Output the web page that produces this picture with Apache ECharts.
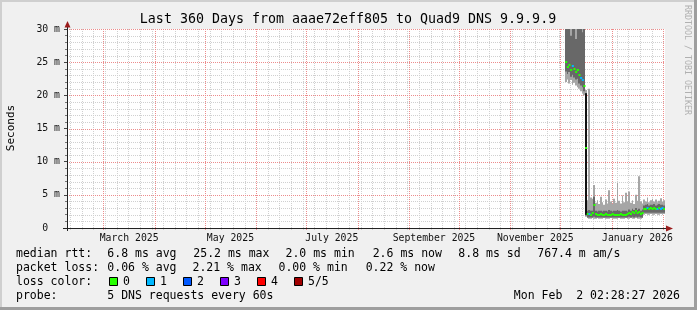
<!DOCTYPE html>
<html><head><meta charset="utf-8">
<script src="https://cdn.jsdelivr.net/npm/echarts@6/dist/echarts.min.js"></script>
<style>html,body{margin:0;padding:0;background:#f0f0f0}#c{width:697px;height:310px}</style>
</head><body><div id="c"></div>
<script>
// ---------------- data ----------------
const rangeStart = '2025-02-07T02:28:27Z';
const rangeEnd   = '2026-02-02T02:28:27Z';
const dataStart  = '2025-12-04T00:00:00Z';   // first daily bucket with data

// median RTT per day (ms)
const medianMs = [25.0,24.2,24.6,23.8,24.4,23.9,23.5,23.8,23.0,22.6,22.3,21.4,
  12.1,
  2.1,2.1,2.0,2.2,3.4,2.1,2.0,2.0,2.1,2.0,2.0,2.1,2.0,2.0,2.0,2.1,2.0,2.0,2.0,2.0,2.1,2.0,2.0,2.0,2.1,2.3,2.1,2.4,2.2,2.5,2.2,2.4,2.1,2.3,
  2.8,2.9,3.0,2.8,3.0,2.9,3.0,2.8,2.9,3.0,2.9,3.0,2.9];
// lost packets (of 5) per day
const lossCount = [0,0,0,0,1,0,0,0,0,1,1,0,
  0,
  0,1,0,0,0,0,0,0,0,0,0,0,0,0,0,0,0,0,0,0,0,0,0,0,0,0,0,0,0,0,0,0,0,0,
  0,0,1,0,0,0,0,0,1,0,1,1,0];
// outer smoke (fastest / slowest ping), ms
const smokeMinMs = [22.0,22.4,21.8,22.3,21.6,21.9,21.5,21.2,21.0,20.6,20.3,20.0,
  1.7,
  1.5,1.4,1.4,1.5,1.4,1.4,1.5,1.4,1.4,1.4,1.5,1.4,1.4,1.4,1.5,1.4,1.4,1.4,1.4,1.5,1.4,1.4,1.4,1.5,1.4,1.4,1.5,1.4,1.4,1.5,1.4,1.4,1.4,1.5,
  2.0,2.1,2.0,2.0,2.1,2.0,2.0,2.1,2.0,2.0,2.1,2.0,2.1];
const smokeMaxMs = [38,42,36,40,45,37,41,39,44,36,40,38,
  20.8,
  4.2,21.0,4.6,4.4,6.5,3.8,4.2,3.6,4.7,3.9,3.5,4.3,3.7,5.7,4.0,3.6,4.4,3.8,6.8,4.1,3.7,4.9,3.9,5.3,4.0,5.5,3.8,4.2,3.6,5.0,4.1,7.8,4.0,3.7,
  4.3,4.0,4.6,3.9,4.2,4.4,4.0,4.3,3.9,4.1,4.5,4.0,4.2];
// inner smoke (2nd / 4th ping), ms
const innerLoMs = [23.6,23.2,23.5,22.8,23.1,22.7,22.4,22.5,21.8,21.5,21.2,20.6,
  1.9,
  1.6,1.6,1.6,1.6,1.7,1.6,1.6,1.6,1.6,1.6,1.6,1.6,1.6,1.6,1.6,1.6,1.6,1.6,1.6,1.6,1.6,1.6,1.6,1.6,1.6,1.7,1.6,1.7,1.6,1.7,1.6,1.7,1.6,1.6,
  2.3,2.3,2.3,2.3,2.3,2.3,2.3,2.3,2.3,2.3,2.3,2.3,2.3];
const innerHiMs = [34,30.5,33,29,35,31,28.5,32,30.2,33,29.5,31,
  20.3,
  2.6,2.7,2.6,2.6,4.7,2.6,2.5,2.6,2.6,2.5,2.6,2.6,2.5,2.7,2.6,2.5,2.6,2.6,2.7,2.6,2.5,2.6,2.6,2.6,2.5,2.8,2.6,2.9,2.7,3.0,2.7,2.9,2.6,2.8,
  3.4,3.5,3.6,3.4,3.5,3.5,3.6,3.4,3.5,3.6,3.5,3.5,3.4];
// dense core on the transition day
const coreDayIdx = [12];
const coreLoMs = [2.0];
const coreHiMs = [20.3];

const yTicks = [0, 5, 10, 15, 20, 25, 30];
const monthStarts = ['2025-03-01','2025-04-01','2025-05-01','2025-06-01','2025-07-01','2025-08-01',
  '2025-09-01','2025-10-01','2025-11-01','2025-12-01','2026-01-01','2026-02-01'];
const firstWeekLine = '2025-02-09';
const labelMonths = ['2025-03-01','2025-05-01','2025-07-01','2025-09-01','2025-11-01','2026-01-01'];
const xTickLabels = ['March 2025','May 2025','July 2025','September 2025','November 2025','January 2026'];

const lossColors = ['#26ff00','#00b8ff','#0059ff','#7e00ff','#ff0000','#a10000'];
const lossLabels = ['0','1','2','3','4','5/5'];

// ---------------- build ----------------
const DAY = 86400000;
const tMin = Date.parse(rangeStart), tMax = Date.parse(rangeEnd);
const d0 = Date.parse(dataStart);
const dayTimes = medianMs.map((_, i) => d0 + i * DAY);
const weekTimes = [];
for (let t = Date.parse(firstWeekLine + 'T00:00:00Z'); t < tMax; t += 7 * DAY) weekTimes.push(t);
const monthTimes = monthStarts.map(s => Date.parse(s + 'T00:00:00Z'));
const labelCenters = labelMonths.map(s => {
  const a = new Date(s + 'T00:00:00Z');
  const b = Date.UTC(a.getUTCFullYear(), a.getUTCMonth() + 1, 1);
  return (a.getTime() + b) / 2;
});

const MONO = '"DejaVu Sans Mono", monospace';
const MINOR = '#d0d0d0';
const MAJOR = '#ec8c8c';

function vLines(times, color, z) {
  return {
    type: 'custom', z, silent: true, clip: false,
    data: times.map(t => [t, 0]),
    encode: { x: 0, y: 1 },
    renderItem(params, api) {
      const t = api.value(0);
      const a = api.coord([t, 30]), b = api.coord([t, 0]);
      const x = Math.round(a[0]) + 0.5;
      return { type: 'line', shape: { x1: x, y1: a[1], x2: x, y2: b[1] + 2 },
        style: { stroke: color, lineWidth: 1, lineDash: [1, 1] } };
    }
  };
}
function hLines(step, skip, color, z) {
  const vals = [];
  for (let v = yTicks[0]; v <= yTicks[yTicks.length - 1]; v += step) if (!skip || v % skip) vals.push(v);
  return {
    type: 'custom', z, silent: true, clip: false,
    data: vals.map(v => [tMin, v]),
    encode: { x: 0, y: 1 },
    renderItem(params, api) {
      const v = api.value(1);
      const a = api.coord([tMin, v]), b = api.coord([tMax, v]);
      const y = Math.round(a[1]) + 0.5;
      return { type: 'line', shape: { x1: a[0], y1: y, x2: b[0], y2: y },
        style: { stroke: color, lineWidth: 1, lineDash: [1, 1] } };
    }
  };
}

function band(lo, hi, idx, color, z) {
  return {
    type: 'custom', z, silent: true, clip: true,
    data: idx.map((d, k) => [d0 + d * DAY, lo[k], hi[k]]),
    encode: { x: 0, y: [1, 2] },
    renderItem(params, api) {
      const t = api.value(0), l = api.value(1), h = api.value(2);
      const a = api.coord([t, h]), b = api.coord([t + DAY, l]);
      const x0 = Math.round(a[0]), x1 = Math.round(b[0]);
      return { type: 'rect', shape: { x: x0, y: a[1], width: Math.max(1, x1 - x0), height: b[1] - a[1] },
        style: { fill: color } };
    }
  };
}
const allIdx = medianMs.map((_, i) => i);

const option = {
  backgroundColor: '#f0f0f0',
  animation: false,
  grid: { left: 67, top: 29, width: 598, height: 199, show: true, backgroundColor: '#ffffff', borderWidth: 0 },
  xAxis: {
    type: 'value', min: tMin, max: tMax,
    axisLine: { show: false },
    axisTick: { show: false }, axisLabel: { show: false }, splitLine: { show: false }
  },
  yAxis: {
    type: 'value', min: yTicks[0], max: yTicks[yTicks.length - 1], interval: 5,
    axisLine: { show: false },
    axisTick: { show: true, length: 3, lineStyle: { color: '#444' } },
    minorTick: { show: true, splitNumber: 5, length: 2, lineStyle: { color: '#777' } },
    minorSplitLine: { show: false },
    splitLine: { show: false },
    axisLabel: {
      margin: 7, color: '#111', fontFamily: '"DejaVu Sans Mono"', fontSize: 9.8,
      formatter: v => (v === 0 ? '0  ' : v + ' m')
    }
  },
  series: [
    hLines(1, 5, MINOR, 1),
    vLines(weekTimes, MINOR, 1),
    hLines(5, 0, MAJOR, 2),
    vLines(monthTimes, MAJOR, 2),
    band(smokeMinMs, smokeMaxMs, allIdx, '#a6a6a6', 3),
    band(innerLoMs, innerHiMs, allIdx, '#686868', 4),
    band(coreLoMs, coreHiMs, coreDayIdx, '#111111', 5),
    {
      type: 'custom', z: 6, silent: true, clip: true,
      data: dayTimes.map((t, i) => [t, medianMs[i], lossCount[i]]),
      encode: { x: 0, y: 1 },
      renderItem(params, api) {
        const t = api.value(0), m = api.value(1), loss = api.value(2);
        const a = api.coord([t, m]), b = api.coord([t + DAY, m]);
        const y = Math.round(a[1]);
        return { type: 'line', shape: { x1: a[0], y1: y, x2: b[0] + 0.4, y2: y },
          style: { stroke: lossColors[loss], lineWidth: 2 } };
      }
    },
    {
      type: 'custom', z: 7, silent: true, clip: false,
      data: labelCenters.map((t, i) => [t, 0, i]),
      encode: { x: 0, y: 1 },
      renderItem(params, api) {
        const p = api.coord([api.value(0), 0]);
        return { type: 'text', x: p[0], y: p[1] + 10,
          style: { text: xTickLabels[api.value(2)], font: '9.8px ' + MONO, fill: '#111',
            align: 'center', verticalAlign: 'middle' } };
      }
    }
  ],
  graphic: []
};

const g = option.graphic;
// frame
g.push({ type: 'rect', shape: { x: 0, y: 0, width: 697, height: 2 }, style: { fill: '#cfcfcf' }, z: 10 });
g.push({ type: 'rect', shape: { x: 0, y: 0, width: 2, height: 310 }, style: { fill: '#cfcfcf' }, z: 10 });
g.push({ type: 'rect', shape: { x: 0, y: 307, width: 697, height: 3 }, style: { fill: '#9e9e9e' }, z: 10 });
g.push({ type: 'rect', shape: { x: 694, y: 0, width: 3, height: 310 }, style: { fill: '#9e9e9e' }, z: 10 });
// axis lines, arrows
g.push({ type: 'line', shape: { x1: 67.5, y1: 27, x2: 67.5, y2: 231 }, style: { stroke: '#222', lineWidth: 1 }, z: 10 });
g.push({ type: 'line', shape: { x1: 63, y1: 228.5, x2: 667, y2: 228.5 }, style: { stroke: '#222', lineWidth: 1 }, z: 10 });
g.push({ type: 'polygon', shape: { points: [[64.5, 27.5], [70.5, 27.5], [67.5, 21]] }, style: { fill: '#9b1c1c' }, z: 11 });
g.push({ type: 'polygon', shape: { points: [[666, 225.5], [666, 231.5], [673, 228.5]] }, style: { fill: '#9b1c1c' }, z: 11 });
// title
g.push({ type: 'text', x: 348, y: 19.5, style: { text: 'Last 360 Days from aaae72eff805 to Quad9 DNS 9.9.9.9',
  font: '13.3px ' + MONO, fill: '#000', align: 'center', verticalAlign: 'middle' }, z: 10 });
// watermark
g.push({ type: 'text', x: 687, y: 60, rotation: -Math.PI / 2, style: { text: 'RRDTOOL / TOBI OETIKER',
  font: '8.3px ' + MONO, fill: '#b0b0b0', align: 'center', verticalAlign: 'middle' }, z: 10 });
// unit label
g.push({ type: 'text', x: 11, y: 128, rotation: Math.PI / 2, style: { text: 'Seconds',
  font: '11px ' + MONO, fill: '#000', align: 'center', verticalAlign: 'middle' }, z: 10 });

// legend
function txt(s, x, y, align) {
  g.push({ type: 'text', x, y, style: { text: s, font: '11.5px ' + MONO, fill: '#000', align: align || 'left', verticalAlign: 'middle' }, z: 10 });
}
const L1 = 254.3, L2 = 268.3, L3 = 282.3, L4 = 296.2;
txt('median rtt:', 16, L1);
txt('6.8 ms avg', 107.3, L1);
txt('25.2 ms max', 193.3, L1);
txt('2.0 ms min', 285.5, L1);
txt('2.6 ms now', 372.7, L1);
txt('8.8 ms sd', 458.3, L1);
txt('767.4 m am/s', 537.3, L1);
txt('packet loss:', 16, L2);
txt('0.06 % avg', 107.3, L2);
txt('2.21 % max', 192.5, L2);
txt('0.00 % min', 278.5, L2);
txt('0.22 % now', 365.7, L2);
txt('loss color:', 16, L3);
const boxX = [109, 146, 183, 220, 257, 294];
lossLabels.forEach((lab, i) => {
  g.push({ type: 'rect', shape: { x: boxX[i] + 0.5, y: 277.5, width: 8, height: 8 },
    style: { fill: lossColors[i], stroke: '#000', lineWidth: 1 }, z: 10 });
  txt(lab, boxX[i] + 14, L3);
});
txt('probe:', 16, L4);
txt('5 DNS requests every 60s', 107.3, L4);
txt('Mon Feb  2 02:28:27 2026', 680, L4, 'right');

const chart = echarts.init(document.getElementById('c'));
chart.setOption(option);
</script>
</body></html>
